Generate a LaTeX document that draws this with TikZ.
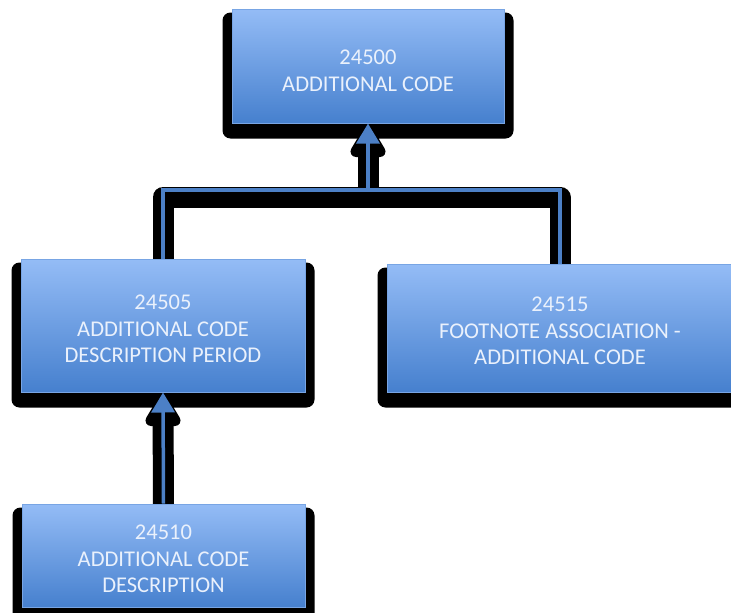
\documentclass[tikz,border=0pt]{standalone}
\usepackage{fontspec}
\setmainfont{Carlito}
\usetikzlibrary{arrows.meta,backgrounds,calc}
\definecolor{boxtop}{RGB}{148,188,246}
\definecolor{boxbot}{RGB}{70,128,206}
\definecolor{boxedge}{RGB}{120,165,228}
\definecolor{lineblue}{RGB}{76,128,198}
\definecolor{txt}{RGB}{234,241,252}
\tikzset{
  box/.style={rectangle, inner sep=0pt, top color=boxtop, bottom color=boxbot,
    draw=boxedge, line width=1pt},
  boxtext/.style={inner sep=0pt, text=txt,
    font=\fontsize{22.5}{26.5}\selectfont, align=center},
  connline/.style={draw=lineblue, line width=3.5pt},
  connshadow/.style={draw=black, line width=21pt, line join=round},
  tipblue/.style={-{Triangle[width=23pt,length=20pt]}},
  boxshadow/.style={fill=black, rounded corners=8pt},
  tipshadow/.style={fill=black, draw=black, line width=11pt, line join=round}
}
\begin{document}
\begin{tikzpicture}[x=1pt,y=-1pt]
\useasboundingbox (0,0) rectangle (731,613);
\clip (0,0) rectangle (731,613);
\node[box, minimum width=272pt, minimum height=114pt] (n0) at (368,66) {};
\node[box, minimum width=284pt, minimum height=133pt] (n1) at (163,325.5) {};
\node[box, minimum width=346pt, minimum height=128pt] (n3) at (560,328) {};
\node[box, minimum width=283pt, minimum height=103pt] (n2) at (163.5,555.5) {};
\node[boxtext] (t0) at ($(n0.center)+(0,5)$) {24500\\ADDITIONAL CODE};
\node[boxtext] (t1) at ($(n1.center)+(0,3.5)$) {24505\\ADDITIONAL CODE\\DESCRIPTION PERIOD};
\node[boxtext] (t3) at ($(n3.center)+(0,3)$) {24515\\FOOTNOTE ASSOCIATION -\\ADDITIONAL CODE};
\node[boxtext] (t2) at ($(n2.center)+(0,3.5)$) {24510\\ADDITIONAL CODE\\DESCRIPTION};
\coordinate (j) at (368,190);
\coordinate (js) at (368,197);
\begin{scope}[on background layer]
  \foreach \n in {n0,n1,n2,n3}{
    \fill[boxshadow] ([xshift=-9pt,yshift=-4pt]\n.north west) rectangle ([xshift=9pt,yshift=-15pt]\n.south east);
  }
  \draw[connshadow] ([yshift=-7pt]n1.north) |- (js) -| ([yshift=-7pt]n3.north);
  \draw[connshadow] (js) -- ([yshift=-7pt]n0.south);
  \draw[connshadow] ([yshift=-7pt]n2.north) -- ([yshift=-7pt]n1.south);
  \filldraw[tipshadow] ($(n0.south)+(0,8)$) -- ++(-12,20) -- ++(24,0) -- cycle;
  \filldraw[tipshadow] ($(n1.south)+(0,8)$) -- ++(-12,20) -- ++(24,0) -- cycle;
\end{scope}
\draw[connline] (n1.north) |- (j) -| (n3.north);
\draw[connline, tipblue] (j) -- (n0.south);
\draw[connline, tipblue] (n2.north) -- (n1.south);
\end{tikzpicture}
\end{document}
